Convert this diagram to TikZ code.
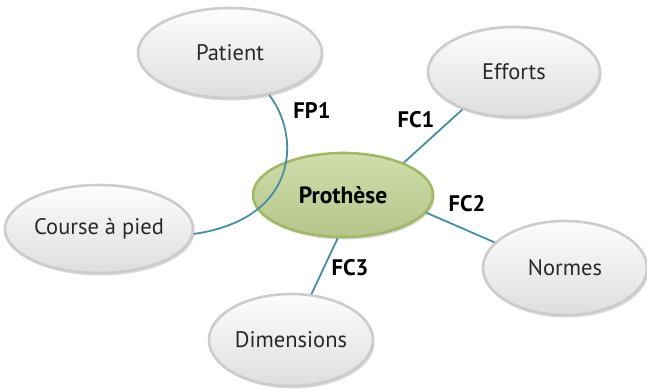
\documentclass[tikz,border=0pt]{standalone}
\usepackage{fontspec}
\setmainfont{PT Sans}
\usetikzlibrary{shapes.geometric,shadows}
\definecolor{linkc}{RGB}{72,142,162}
\definecolor{ellfill}{RGB}{236,236,236}
\definecolor{ellbord}{RGB}{204,204,204}
\definecolor{profill}{RGB}{196,214,150}
\definecolor{probord}{RGB}{160,184,104}
\definecolor{txtc}{RGB}{40,40,40}
\tikzset{
  bubble/.style={ellipse, inner sep=0pt, draw=ellbord, line width=2.6pt,
    top color=white!90!ellfill, bottom color=ellfill!94!black,
    drop shadow={opacity=0.3, shadow xshift=1.5pt, shadow yshift=-2.5pt},
    text=txtc, font=\fontsize{22.5}{25}\selectfont},
  core/.style={ellipse, inner sep=0pt, draw=probord, line width=2.6pt,
    top color=profill!80!white, bottom color=profill!92!black,
    drop shadow={opacity=0.3, shadow xshift=1.5pt, shadow yshift=-2.5pt},
    text=black, font=\fontsize{23.5}{26}\selectfont\bfseries},
  link/.style={draw=linkc, line width=1.8pt},
  lab/.style={font=\fontsize{22.5}{25}\selectfont\bfseries, text=black, inner sep=0pt}
}
\begin{document}
\begin{tikzpicture}[x=1pt,y=-1pt]
\useasboundingbox (0,0) rectangle (647,389);
\node[bubble, minimum width=184pt, minimum height=90pt] (pat) at (230,53) {Patient};
\node[bubble, minimum width=172pt, minimum height=90pt] (eff) at (514,72) {Efforts};
\node[bubble, minimum width=188pt, minimum height=88pt] (cap) at (99,229) {Course à pied};
\node[bubble, minimum width=164pt, minimum height=94pt] (nor) at (565,268) {Normes};
\node[bubble, minimum width=164pt, minimum height=92pt] (dim) at (291,340) {Dimensions};
\node[core, minimum width=180pt, minimum height=84pt] (pro) at (343,195) {Prothèse};
\draw[link] (pro.28) -- (eff.216);
\draw[link] (pro.-12) -- (nor.160);
\draw[link] (pro.263) -- (dim.66);
\draw[link] (pat.-47) .. controls +(32,41) and +(105,-15) .. (cap.-3);
\node[lab] (lfp) at (312,110) {FP1};
\node[lab] (lfc1) at (416,120) {FC1};
\node[lab] (lfc2) at (467,204) {FC2};
\node[lab] (lfc3) at (350,268) {FC3};
\end{tikzpicture}
\end{document}
